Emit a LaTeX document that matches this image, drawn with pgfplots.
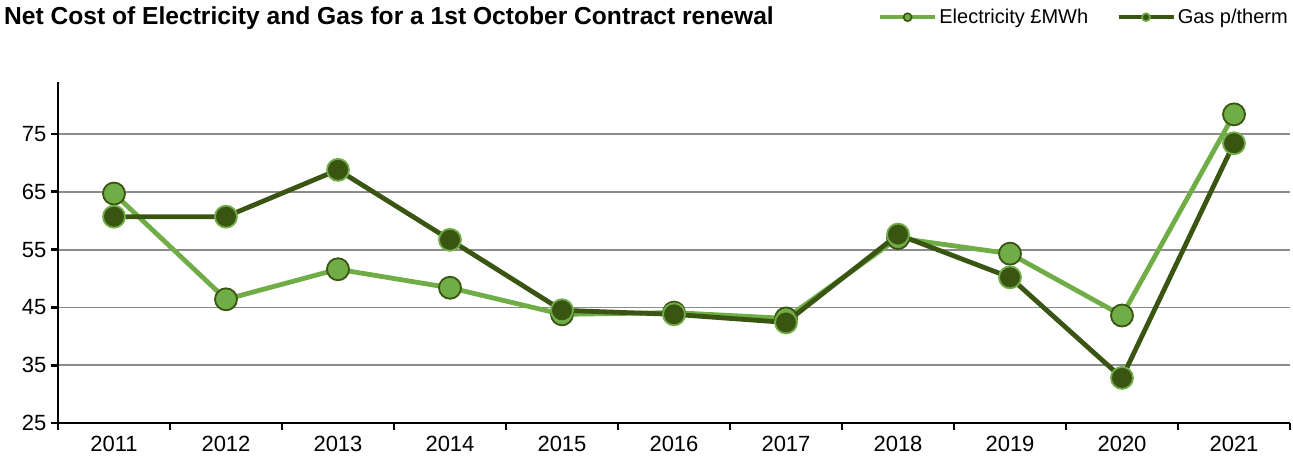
\documentclass[border=0pt]{standalone}
\usepackage{pgfplots}
\pgfplotsset{compat=1.18}
\usepackage{fontspec}
\setmainfont{Liberation Sans}
\definecolor{lgreen}{HTML}{70AD47}
\definecolor{dgreen}{HTML}{3A5412}
\definecolor{gridgray}{HTML}{8C8C8C}
\begin{document}
\begin{tikzpicture}[x=1pt,y=1pt]
\path[use as bounding box] (0,0) rectangle (1293,461);
\node[anchor=west,font=\fontsize{24.6}{28}\selectfont\bfseries,inner sep=0pt] at (4,443) {Net Cost of Electricity and Gas for a 1st October Contract renewal};
\begin{axis}[
  at={(58pt,38pt)}, anchor=south west,
  scale only axis, width=1232pt, height=341pt,
  xmin=-0.5, xmax=10.5, ymin=25, ymax=84,
  axis x line*=bottom, axis y line*=left,
  axis line style={-, line width=2.8pt, black},
  ytick={25,35,45,55,65,75},
  ymajorgrids, grid style={gridgray, line width=1.8pt},
  xtick={-0.5,0.5,...,10.5}, xticklabels={},
  extra x ticks={0,1,...,10},
  extra x tick labels={2011,2012,2013,2014,2015,2016,2017,2018,2019,2020,2021},
  extra x tick style={major tick style={draw=none}, grid=none},
  tick align=outside, major tick length=7pt,
  tick style={black, line width=2.8pt},
  tick label style={font=\fontsize{22}{26}\selectfont},
  /pgf/number format/assume math mode=true,
  xticklabel style={yshift=-3pt},
  yticklabel style={xshift=-1pt},
  clip=false,
  legend columns=2,
  legend style={at={(1.0,1.19)}, anchor=east, draw=none, fill=none,
    font=\fontsize{20}{22}\selectfont, inner sep=0pt,
    /tikz/every even column/.append style={column sep=26pt}},
]
\addplot[lgreen, line width=4.8pt, mark=*, mark size=11pt,
  mark options={fill=lgreen, draw=dgreen, line width=1.8pt},
  legend image code/.code={
    \draw[lgreen, line width=4.5pt] (0pt,0pt) -- (55pt,0pt);
    \draw[fill=lgreen, draw=dgreen, line width=1.6pt] (27.5pt,0pt) circle (4pt);}]
coordinates {(0,64.7) (1,46.4) (2,51.6) (3,48.4) (4,43.8) (5,44.1) (6,43.1) (7,57.0) (8,54.3) (9,43.6) (10,78.4)};
\addlegendentry{Electricity £MWh}
\addplot[dgreen, line width=4.8pt, mark=*, mark size=11pt,
  mark options={fill=dgreen, draw=lgreen, line width=1.8pt},
  legend image code/.code={
    \draw[dgreen, line width=4.5pt] (0pt,0pt) -- (55pt,0pt);
    \draw[fill=dgreen, draw=lgreen, line width=1.6pt] (27.5pt,0pt) circle (4pt);}]
coordinates {(0,60.7) (1,60.7) (2,68.8) (3,56.7) (4,44.5) (5,43.8) (6,42.4) (7,57.6) (8,50.2) (9,32.8) (10,73.4)};
\addlegendentry{Gas p/therm}
\end{axis}
\end{tikzpicture}
\end{document}
